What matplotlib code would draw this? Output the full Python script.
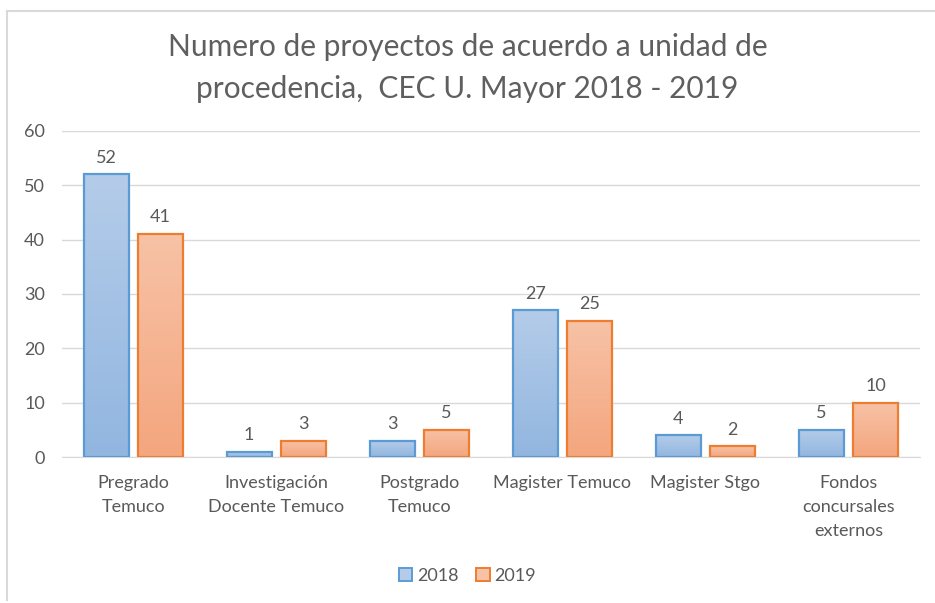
import matplotlib
matplotlib.use('Agg')
import matplotlib.pyplot as plt
import numpy as np
from matplotlib.colors import LinearSegmentedColormap
from matplotlib.lines import Line2D
from matplotlib.patches import Rectangle

# datos
categorias = ['Pregrado\nTemuco', 'Investigación\nDocente Temuco', 'Postgrado\nTemuco',
              'Magister Temuco', 'Magister Stgo', 'Fondos\nconcursales\nexternos']
valores_2018 = [52, 1, 3, 27, 4, 5]
valores_2019 = [41, 3, 5, 25, 2, 10]
series = ['2018', '2019']

plt.rcParams['font.family'] = ['Lato', 'DejaVu Sans']
gris = '#595959'

fig = plt.figure(figsize=(9.35, 6.03), dpi=100)
ax = fig.add_axes([0.066, 0.242, 0.918, 0.541])

x = np.arange(len(categorias))
ancho = 0.315
desp = 0.19

# colores: (borde, arriba, abajo)
estilos = [('#5B9BD5', '#B4CCE9', '#92B6E0'),
           ('#ED7D31', '#F7C2A6', '#F4A67E')]

for vals, off, (borde, c_top, c_bot) in zip([valores_2018, valores_2019], [-desp, desp], estilos):
    cmap = LinearSegmentedColormap.from_list('g', [c_bot, c_top])
    barras = ax.bar(x + off, vals, ancho, color='none', edgecolor=borde, linewidth=1.6, zorder=3)
    grad = np.linspace(0, 1, 100).reshape(-1, 1)
    for b, v in zip(barras, vals):
        x0, w, h = b.get_x(), b.get_width(), b.get_height()
        im = ax.imshow(grad, cmap=cmap, origin='lower', aspect='auto',
                       extent=[x0, x0 + w, 0, h], zorder=2)
        im.set_clip_path(b)
        ax.text(x0 + w / 2, h + 1.6, str(v), ha='center', va='bottom',
                fontsize=13, color=gris)

ax.set_xlim(-0.5, len(categorias) - 0.5)
ax.set_ylim(0, 60)
ax.set_yticks(range(0, 61, 10))
ax.grid(axis='y', color='#D9D9D9', linewidth=1, zorder=0)
ax.set_axisbelow(True)
for s in ['top', 'right', 'left']:
    ax.spines[s].set_visible(False)
ax.spines['bottom'].set_color('#D9D9D9')
ax.set_xticks(x)
ax.set_xticklabels(categorias, fontsize=13, color=gris, linespacing=1.6)
ax.tick_params(axis='x', length=0, pad=13)
ax.tick_params(axis='y', length=0, labelsize=13, labelcolor=gris, pad=12)

fig.suptitle('Numero de proyectos de acuerdo a unidad de\nprocedencia,  CEC U. Mayor 2018 - 2019',
             y=0.945, fontsize=21.5, color='#5f5f5f', linespacing=1.6)

handles = [Rectangle((0, 0), 1, 1, facecolor=e[1], edgecolor=e[0], linewidth=1.4) for e in estilos]
fig.legend(handles, series, loc='center', bbox_to_anchor=(0.5, 0.045), ncol=2, frameon=False,
           fontsize=13, labelcolor=gris, handlelength=0.75, handleheight=0.75,
           handletextpad=0.25, columnspacing=1.0)

# marco del gráfico
fig.add_artist(Line2D([7 / 935, 7 / 935], [3 / 603, 592 / 603], color='#D9D9D9', linewidth=1.5))
fig.add_artist(Line2D([7 / 935, 1.0], [592 / 603, 592 / 603], color='#D9D9D9', linewidth=1.5))

fig.savefig('out.png', dpi=100)
